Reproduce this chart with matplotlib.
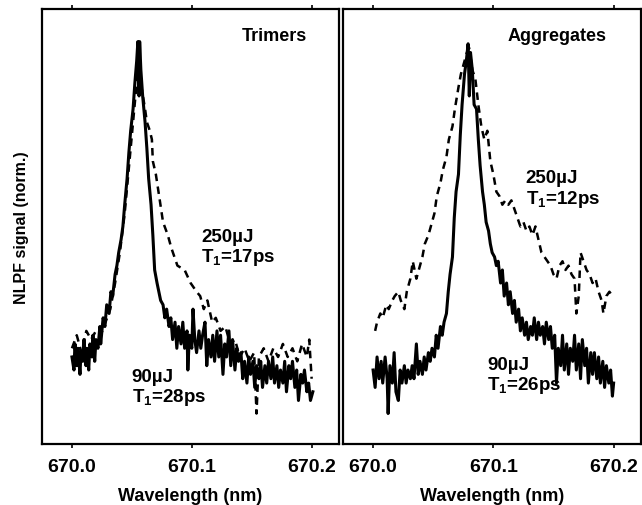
import numpy as np
import matplotlib
matplotlib.use("Agg")
import matplotlib.pyplot as plt

plt.rcParams['font.family'] = ['Liberation Sans', 'DejaVu Sans']
plt.rcParams['font.weight'] = 'bold'
plt.rcParams['mathtext.fontset'] = 'custom'
plt.rcParams['mathtext.bf'] = 'Liberation Sans:bold'
plt.rcParams['mathtext.rm'] = 'Liberation Sans:bold'

# ---- Trimers, 90 uJ (solid) ----
trim90_wl = [670.0000, 670.0017, 670.0025, 670.0040, 670.0050, 670.0067, 670.0075, 670.0090,
             670.0100, 670.0117, 670.0125, 670.0140, 670.0150, 670.0167, 670.0175, 670.0190,
             670.0200, 670.0217, 670.0233, 670.0240, 670.0260, 670.0275, 670.0290, 670.0310,
             670.0325, 670.0340, 670.0360, 670.0375, 670.0390, 670.0410, 670.0425, 670.0440,
             670.0460, 670.0475, 670.0490, 670.0510, 670.0525, 670.0540, 670.0550, 670.0560,
             670.0565, 670.0575, 670.0590, 670.0610, 670.0625, 670.0640, 670.0660, 670.0675,
             670.0690, 670.0710, 670.0725, 670.0740, 670.0760, 670.0775, 670.0790, 670.0810,
             670.0825, 670.0840, 670.0860, 670.0875, 670.0890, 670.0910, 670.0925, 670.0940,
             670.0960, 670.0967, 670.0980, 670.1000, 670.1010, 670.1025, 670.1040, 670.1060,
             670.1075, 670.1090, 670.1110, 670.1125, 670.1140, 670.1160, 670.1175, 670.1190,
             670.1210, 670.1225, 670.1240, 670.1260, 670.1275, 670.1290, 670.1310, 670.1325,
             670.1340, 670.1360, 670.1375, 670.1390, 670.1410, 670.1425, 670.1440, 670.1460,
             670.1475, 670.1490, 670.1510, 670.1525, 670.1540, 670.1560, 670.1575, 670.1590,
             670.1610, 670.1625, 670.1640, 670.1660, 670.1675, 670.1690, 670.1710, 670.1725,
             670.1740, 670.1760, 670.1775, 670.1790, 670.1810, 670.1825, 670.1840, 670.1860,
             670.1875, 670.1890, 670.1910, 670.1925, 670.1940, 670.1960, 670.1975, 670.1990,
             670.2010]
trim90_sig = [0.20, 0.17, 0.23, 0.18, 0.22, 0.16, 0.21, 0.19,
              0.24, 0.18, 0.22, 0.17, 0.23, 0.20, 0.25, 0.19,
              0.24, 0.22, 0.27, 0.23, 0.29, 0.27, 0.32, 0.30,
              0.35, 0.34, 0.39, 0.41, 0.44, 0.47, 0.50, 0.55,
              0.61, 0.67, 0.72, 0.77, 0.83, 0.88, 0.925, 0.80,
              0.925, 0.86, 0.80, 0.74, 0.68, 0.61, 0.55, 0.48,
              0.40, 0.37, 0.35, 0.33, 0.32, 0.29, 0.31, 0.27,
              0.29, 0.24, 0.28, 0.22, 0.27, 0.23, 0.28, 0.22,
              0.26, 0.17, 0.25, 0.22, 0.31, 0.24, 0.21, 0.26,
              0.22, 0.25, 0.28, 0.18, 0.24, 0.20, 0.25, 0.19,
              0.26, 0.20, 0.25, 0.16, 0.23, 0.20, 0.26, 0.18,
              0.24, 0.17, 0.22, 0.19, 0.21, 0.15, 0.19, 0.14,
              0.20, 0.16, 0.19, 0.13, 0.18, 0.15, 0.19, 0.13,
              0.18, 0.14, 0.19, 0.15, 0.20, 0.14, 0.18, 0.13,
              0.17, 0.14, 0.19, 0.12, 0.18, 0.15, 0.19, 0.13,
              0.17, 0.10, 0.16, 0.14, 0.17, 0.12, 0.14, 0.10,
              0.12]

# ---- Trimers, 250 uJ (dashed) ----
trim250_wl = [670.000, 670.004, 670.008, 670.012, 670.016, 670.020, 670.024, 670.028,
              670.032, 670.036, 670.040, 670.044, 670.048, 670.052, 670.055, 670.058,
              670.061, 670.0625, 670.065, 670.0667, 670.0675, 670.070, 670.0733, 670.076,
              670.080, 670.083, 670.088, 670.094, 670.099, 670.104, 670.107, 670.110,
              670.113, 670.117, 670.120, 670.124, 670.128, 670.132, 670.136, 670.140,
              670.144, 670.148, 670.152, 670.154, 670.156, 670.160, 670.164, 670.168,
              670.172, 670.176, 670.180, 670.184, 670.188, 670.192, 670.196, 670.198,
              670.200]
trim250_sig = [0.22, 0.25, 0.21, 0.26, 0.24, 0.26, 0.25, 0.28,
               0.31, 0.37, 0.44, 0.53, 0.65, 0.77, 0.86, 0.82,
               0.77, 0.74, 0.72, 0.70, 0.65, 0.62, 0.56, 0.51,
               0.48, 0.45, 0.41, 0.40, 0.37, 0.35, 0.34, 0.31,
               0.33, 0.28, 0.29, 0.26, 0.27, 0.23, 0.24, 0.20,
               0.22, 0.19, 0.21, 0.07, 0.20, 0.22, 0.19, 0.22,
               0.20, 0.23, 0.20, 0.22, 0.19, 0.23, 0.20, 0.24,
               0.15]

# ---- Aggregates, 90 uJ (solid) ----
agg90_wl = [670.0000, 670.0017, 670.0033, 670.0050, 670.0067, 670.0080, 670.0100, 670.0117,
            670.0125, 670.0140, 670.0160, 670.0175, 670.0190, 670.0210, 670.0225, 670.0240,
            670.0260, 670.0275, 670.0290, 670.0310, 670.0325, 670.0340, 670.0360, 670.0375,
            670.0390, 670.0410, 670.0425, 670.0440, 670.0460, 670.0475, 670.0490, 670.0510,
            670.0525, 670.0540, 670.0560, 670.0575, 670.0590, 670.0610, 670.0625, 670.0640,
            670.0660, 670.0675, 670.0690, 670.0710, 670.0725, 670.0740, 670.0760, 670.0775,
            670.0790, 670.0800, 670.0810, 670.0825, 670.0840, 670.0860, 670.0875, 670.0890,
            670.0910, 670.0925, 670.0940, 670.0960, 670.0975, 670.0990, 670.1010, 670.1025,
            670.1040, 670.1060, 670.1075, 670.1090, 670.1110, 670.1125, 670.1140, 670.1160,
            670.1175, 670.1190, 670.1210, 670.1225, 670.1240, 670.1260, 670.1275, 670.1290,
            670.1310, 670.1325, 670.1340, 670.1360, 670.1375, 670.1390, 670.1410, 670.1425,
            670.1440, 670.1460, 670.1475, 670.1490, 670.1510, 670.1525, 670.1540, 670.1560,
            670.1575, 670.1590, 670.1610, 670.1625, 670.1640, 670.1660, 670.1675, 670.1690,
            670.1710, 670.1725, 670.1740, 670.1760, 670.1775, 670.1790, 670.1810, 670.1825,
            670.1840, 670.1860, 670.1875, 670.1890, 670.1910, 670.1925, 670.1940, 670.1960,
            670.1975, 670.1990, 670.2000]
agg90_sig = [0.17, 0.13, 0.20, 0.15, 0.19, 0.14, 0.20, 0.15,
             0.07, 0.18, 0.14, 0.21, 0.12, 0.10, 0.17, 0.14,
             0.18, 0.14, 0.17, 0.15, 0.18, 0.15, 0.23, 0.16,
             0.19, 0.16, 0.20, 0.17, 0.21, 0.19, 0.22, 0.20,
             0.25, 0.22, 0.27, 0.25, 0.28, 0.30, 0.35, 0.39,
             0.43, 0.52, 0.58, 0.62, 0.71, 0.78, 0.85, 0.88,
             0.92, 0.80, 0.90, 0.86, 0.78, 0.77, 0.70, 0.64,
             0.58, 0.55, 0.51, 0.49, 0.46, 0.44, 0.43, 0.41,
             0.42, 0.37, 0.40, 0.34, 0.37, 0.32, 0.35, 0.30,
             0.33, 0.28, 0.31, 0.26, 0.29, 0.25, 0.28, 0.24,
             0.27, 0.25, 0.29, 0.24, 0.28, 0.25, 0.27, 0.23,
             0.28, 0.24, 0.27, 0.22, 0.25, 0.14, 0.22, 0.18,
             0.25, 0.17, 0.23, 0.16, 0.22, 0.19, 0.25, 0.17,
             0.23, 0.15, 0.24, 0.18, 0.22, 0.14, 0.21, 0.16,
             0.21, 0.15, 0.20, 0.14, 0.19, 0.13, 0.18, 0.14,
             0.17, 0.11, 0.14]

# ---- Aggregates, 250 uJ (dashed) ----
agg250_wl = [670.0017, 670.0033, 670.006, 670.008, 670.011, 670.013, 670.016, 670.018,
             670.021, 670.023, 670.026, 670.028, 670.031, 670.033, 670.036, 670.038,
             670.041, 670.043, 670.046, 670.048, 670.051, 670.053, 670.056, 670.058,
             670.061, 670.063, 670.066, 670.068, 670.071, 670.073, 670.076, 670.078,
             670.080, 670.0825, 670.085, 670.0875, 670.090, 670.0925, 670.095, 670.0975,
             670.100, 670.1025, 670.105, 670.1075, 670.110, 670.1125, 670.115, 670.1175,
             670.120, 670.1225, 670.125, 670.1275, 670.130, 670.1325, 670.135, 670.1375,
             670.140, 670.1425, 670.145, 670.1475, 670.150, 670.1525, 670.155, 670.1575,
             670.160, 670.1625, 670.165, 670.1675, 670.169, 670.171, 670.1725, 670.175,
             670.1775, 670.180, 670.1825, 670.185, 670.1875, 670.190, 670.1915, 670.194,
             670.1965, 670.199]
agg250_sig = [0.26, 0.28, 0.30, 0.29, 0.32, 0.31, 0.33, 0.34,
              0.35, 0.33, 0.31, 0.35, 0.38, 0.42, 0.38, 0.40,
              0.43, 0.46, 0.48, 0.50, 0.53, 0.57, 0.60, 0.63,
              0.66, 0.70, 0.73, 0.77, 0.82, 0.85, 0.88, 0.90,
              0.91, 0.86, 0.84, 0.78, 0.73, 0.70, 0.72, 0.65,
              0.62, 0.58, 0.57, 0.55, 0.56, 0.55, 0.56, 0.54,
              0.52, 0.50, 0.51, 0.49, 0.50, 0.48, 0.50, 0.47,
              0.44, 0.43, 0.42, 0.41, 0.39, 0.38, 0.41, 0.42,
              0.40, 0.41, 0.39, 0.38, 0.30, 0.34, 0.44, 0.42,
              0.40, 0.39, 0.37, 0.38, 0.35, 0.33, 0.30, 0.34,
              0.35, 0.34]

xticks = [670.0, 670.1, 670.2]
xtick_labels = ["670.0", "670.1", "670.2"]

fig = plt.figure(figsize=(6.42, 5.06), dpi=100)
ax1 = fig.add_axes([0.0654, 0.1206, 0.4626, 0.8597])
ax2 = fig.add_axes([0.5343, 0.1206, 0.4642, 0.8597])

dash = (0, (3.0, 2.2))
ax1.plot(trim250_wl, trim250_sig, color='black', lw=1.8, linestyle=dash)
ax1.plot(trim90_wl, trim90_sig, color='black', lw=2.2)
ax2.plot(agg250_wl, agg250_sig, color='black', lw=1.8, linestyle=dash)
ax2.plot(agg90_wl, agg90_sig, color='black', lw=2.2)

for ax in (ax1, ax2):
    ax.set_xlim(669.975, 670.2228)
    ax.set_ylim(0, 1)
    ax.set_xticks(xticks)
    ax.set_xticklabels(xtick_labels, fontsize=14, fontweight='bold')
    ax.set_yticks([])
    ax.tick_params(axis='x', direction='out', length=3, width=1.2, top=True, pad=7)
    for s in ax.spines.values():
        s.set_linewidth(1.6)
    ax.set_xlabel("Wavelength (nm)", fontsize=13, fontweight='bold', labelpad=9)

ax1.set_ylabel("NLPF signal (norm.)", fontsize=11.5, fontweight='bold', labelpad=9)

lab = dict(fontsize=13.5, fontweight='bold', ha='left', va='center')
ax1.text(670.169, 0.940, "Trimers", fontsize=13, fontweight='bold', ha='center', va='center')
ax1.text(670.108, 0.478, "250µJ", **lab)
ax1.text(670.108, 0.432, r"T$_{\mathbf{1}}$=17ps", **lab)
ax1.text(670.050, 0.155, "90µJ", **lab)
ax1.text(670.050, 0.108, r"T$_{\mathbf{1}}$=28ps", **lab)

ax2.text(670.153, 0.940, "Aggregates", fontsize=13, fontweight='bold', ha='center', va='center')
ax2.text(670.127, 0.612, "250µJ", **lab)
ax2.text(670.127, 0.565, r"T$_{\mathbf{1}}$=12ps", **lab)
ax2.text(670.095, 0.183, "90µJ", **lab)
ax2.text(670.095, 0.136, r"T$_{\mathbf{1}}$=26ps", **lab)

fig.savefig("out.png", dpi=100)
